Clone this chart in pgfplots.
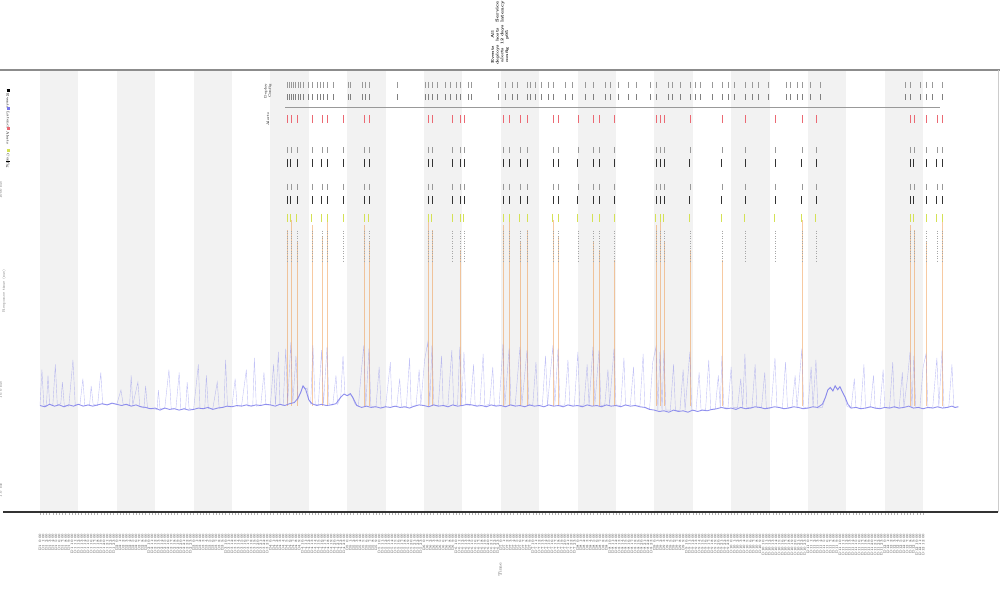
\documentclass[border=0pt]{standalone}
\usepackage{pgfplots}
\usepackage{pgfplotstable}
\pgfplotsset{compat=1.18}

\definecolor{lineblue}{RGB}{120,120,235}
\definecolor{spikeorange}{RGB}{240,150,70}
\definecolor{evyellow}{RGB}{212,225,85}
\definecolor{evred}{RGB}{235,105,115}
\definecolor{band}{RGB}{242,242,242}
\newcommand{\tinyfont}{\fontsize{1.8}{2.2}\selectfont}

% event rows: a,b,c,d = marker rows, e = yellow row, r = red row, g = grey dotted row
\pgfplotstableread{
h a b c d e r g
77.2 2512 1862 1072 794 525 5128 272
78.4 2512 1862 1072 794 525 5128 272
80.3 2512 1862 1072 794 525 5128 272
85.0 2512 1862 1072 794 525 5128 272
88.1 2512 1862 1072 794 525 5128 272
89.7 2512 1862 1072 794 525 5128 272
94.7 2512 1862 1072 794 525 5128 272
101.3 2512 1862 1072 794 525 5128 272
102.8 2512 1862 1072 794 525 5128 272
121.3 2512 1862 1072 794 525 5128 272
122.5 2512 1862 1072 794 525 5128 272
128.8 2512 1862 1072 794 525 5128 272
131.3 2512 1862 1072 794 525 5128 272
132.5 2512 1862 1072 794 525 5128 272
144.7 2512 1862 1072 794 525 5128 272
146.6 2512 1862 1072 794 525 5128 272
150.0 2512 1862 1072 794 525 5128 272
152.2 2512 1862 1072 794 525 5128 272
160.3 2512 1862 1072 794 525 5128 272
161.9 2512 1862 1072 794 525 5128 272
168.1 2512 1862 1072 794 525 5128 272
172.8 2512 1862 1072 794 525 5128 272
174.7 2512 1862 1072 794 525 5128 272
179.4 2512 1862 1072 794 525 5128 272
192.5 2512 1862 1072 794 525 5128 272
193.8 2512 1862 1072 794 525 5128 272
195.0 2512 1862 1072 794 525 5128 272
203.1 2512 1862 1072 794 525 5128 272
213.1 2512 1862 1072 794 525 5128 272
220.3 2512 1862 1072 794 525 5128 272
229.7 2512 1862 1072 794 525 5128 272
238.1 2512 1862 1072 794 525 5128 272
242.5 2512 1862 1072 794 525 5128 272
271.9 2512 1862 1072 794 525 5128 272
273.1 2512 1862 1072 794 525 5128 272
276.9 2512 1862 1072 794 525 5128 272
280.3 2512 1862 1072 794 525 5128 272
281.9 2512 1862 1072 794 525 5128 272
}\events

% top marker rows
\pgfplotstableread{
h t u
77.2 8511 11220
77.8 8511 11220
78.4 8511 11220
79.1 8511 11220
79.7 8511 11220
80.6 8511 11220
81.3 8511 11220
82.2 8511 11220
83.8 8511 11220
85.0 8511 11220
86.6 8511 11220
87.5 8511 11220
88.4 8511 11220
89.7 8511 11220
91.6 8511 11220
96.3 8511 11220
96.9 8511 11220
100.6 8511 11220
101.6 8511 11220
102.8 8511 11220
111.6 8511 11220
120.3 8511 11220
121.3 8511 11220
122.5 8511 11220
124.1 8511 11220
126.6 8511 11220
128.1 8511 11220
130.0 8511 11220
131.3 8511 11220
133.8 8511 11220
134.7 8511 11220
143.1 8511 11220
145.3 8511 11220
147.5 8511 11220
149.1 8511 11220
152.2 8511 11220
153.1 8511 11220
154.7 8511 11220
156.6 8511 11220
158.8 8511 11220
160.3 8511 11220
164.1 8511 11220
166.3 8511 11220
170.3 8511 11220
172.8 8511 11220
176.6 8511 11220
178.1 8511 11220
180.6 8511 11220
183.8 8511 11220
186.3 8511 11220
190.6 8511 11220
192.5 8511 11220
196.3 8511 11220
197.5 8511 11220
200.0 8511 11220
203.1 8511 11220
204.7 8511 11220
206.3 8511 11220
210.0 8511 11220
213.1 8511 11220
215.0 8511 11220
216.9 8511 11220
220.3 8511 11220
222.5 8511 11220
224.4 8511 11220
227.5 8511 11220
233.1 8511 11220
234.4 8511 11220
236.6 8511 11220
238.1 8511 11220
240.6 8511 11220
243.8 8511 11220
270.3 8511 11220
271.9 8511 11220
275.0 8511 11220
276.9 8511 11220
278.8 8511 11220
281.9 8511 11220
}\topmarks

\begin{document}
\begin{tikzpicture}
\begin{axis}[
    scale only axis,
    width=493pt, height=221pt,
    xmin=-8.75, xmax=299.4,
    ymode=log, ymin=0.603, ymax=15849,
    axis line style={draw=none},
    xtick={0,1,...,276},
    xtick pos=lower, tick align=outside,
    xtick style={draw=black!30, line width=0.2pt},
    major tick length=1.5pt,
    xticklabel={\pgfmathtruncatemacro\dd{floor(round(\tick)/24)+1}\pgfmathtruncatemacro\hh{round(\tick)-24*floor(round(\tick)/24)}D\dd\ \hh:00},
    xticklabel style={font=\tinyfont, rotate=90, anchor=east, text=black!75},
    xticklabel shift=6pt,
    ytick={1,10,1000},
    yticklabels={1.0 ms,10.0 ms,1000 ms},
    ytick style={draw=none},
    yticklabel style={font=\tinyfont, rotate=90, anchor=south, text=black!60},
    xlabel={Time},
    every axis x label/.style={at={(rel axis cs:0.495,0)}, anchor=center, yshift=-29pt, rotate=90, font=\fontsize{2.2}{2.6}\selectfont, text=black!70},
    ylabel={Response time (ms)},
    every axis y label/.style={at={(rel axis cs:0,0.5)}, anchor=center, xshift=-4pt, rotate=90, font=\tinyfont, text=black!60},
    unbounded coords=jump,
]

% alternating 12-hour bands
\fill[band] (axis cs:0,0.5) rectangle (axis cs:12,20000);
\fill[band] (axis cs:24,0.5) rectangle (axis cs:36,20000);
\fill[band] (axis cs:48,0.5) rectangle (axis cs:60,20000);
\fill[band] (axis cs:72,0.5) rectangle (axis cs:84,20000);
\fill[band] (axis cs:96,0.5) rectangle (axis cs:108,20000);
\fill[band] (axis cs:120,0.5) rectangle (axis cs:132,20000);
\fill[band] (axis cs:144,0.5) rectangle (axis cs:156,20000);
\fill[band] (axis cs:168,0.5) rectangle (axis cs:180,20000);
\fill[band] (axis cs:192,0.5) rectangle (axis cs:204,20000);
\fill[band] (axis cs:216,0.5) rectangle (axis cs:228,20000);
\fill[band] (axis cs:240,0.5) rectangle (axis cs:252,20000);
\fill[band] (axis cs:264,0.5) rectangle (axis cs:276,20000);

% orange spikes
\addplot[spikeorange, line width=0.3pt, opacity=0.5] coordinates {
(77.2,7)(77.2,400)(77.2,nan) (78.4,7)(78.4,500)(78.4,nan) (80.3,7)(80.3,300)(80.3,nan)
(85.0,7)(85.0,450)(85.0,nan) (88.1,7)(88.1,350)(88.1,nan) (89.7,7)(89.7,500)(89.7,nan)
(101.3,7)(101.3,450)(101.3,nan) (102.8,7)(102.8,300)(102.8,nan)
(121.3,7)(121.3,500)(121.3,nan) (122.5,7)(122.5,400)(122.5,nan) (131.3,7)(131.3,250)(131.3,nan)
(144.7,7)(144.7,450)(144.7,nan) (146.6,7)(146.6,500)(146.6,nan) (150.0,7)(150.0,300)(150.0,nan)
(152.2,7)(152.2,400)(152.2,nan) (160.3,7)(160.3,500)(160.3,nan) (161.9,7)(161.9,350)(161.9,nan)
(172.8,7)(172.8,300)(172.8,nan) (174.7,7)(174.7,250)(174.7,nan) (179.4,7)(179.4,200)(179.4,nan)
(192.5,7)(192.5,450)(192.5,nan) (193.8,7)(193.8,500)(193.8,nan) (195.0,7)(195.0,300)(195.0,nan)
(203.1,7)(203.1,250)(203.1,nan) (213.1,7)(213.1,200)(213.1,nan) (238.1,7)(238.1,500)(238.1,nan)
(271.9,7)(271.9,450)(271.9,nan) (273.1,7)(273.1,400)(273.1,nan) (276.9,7)(276.9,300)(276.9,nan)
(281.9,7)(281.9,500)(281.9,nan)
};

% blue response-time line (raw, with spikes)
\addplot[lineblue, line width=0.2pt, opacity=0.45] coordinates {
(0,7.0)(0.6,16)(1.2,7.1)(2,6.9)(2.5,14)(3,7.2)(4,7.0)(4.8,18)(5.4,7.1)(6.5,7.3)(7,12)(7.6,7.0)
(9,6.9)(10.3,20)(11,7.1)(12.5,7.2)(13.4,13)(14,7.0)(15.5,7.1)(16,11)(16.6,7.2)(18,7.0)(19,15)(19.6,7.2)
(21,7.1)(22.5,7.3)(24,7.2)(25.3,10)(26,7.2)(28,7.0)(28.5,14)(29,7.1)(30.6,12)(31.2,6.9)(32.5,6.6)(33,11)
(33.6,6.6)(35,6.5)(36.6,6.4)(37,10)(37.5,6.5)(39,6.6)(40.3,16)(41,6.5)(42.5,6.6)(43.5,15)(44,6.4)(45.5,6.5)
(46,12)(46.6,6.5)(48,6.4)(49.5,18)(50,6.5)(51.5,6.6)(52,14)(52.6,6.5)(54,6.5)(55.4,12)(56,6.6)(57.5,6.7)
(58,20)(58.6,6.8)(60,6.9)(61,13)(61.6,6.9)(63,7.0)(64.5,16)(65,6.9)(66.5,7.0)(67,21)(67.6,6.9)(69,7.0)
(70,15)(70.6,7.1)(72,7.1)(73,18)(73.6,7.1)(74.5,24)(75,7.2)(76,7.0)(76.8,26)(77.4,7.3)(78.4,30)(79,7.4)
(80,22)(80.6,8)(81.5,9.5)(82.2,11)(82.8,10.2)(83.5,10.5)(84,8)(84.6,7.3)(85.3,28)(86,7.2)(87,7.1)(88,25)
(88.6,7.2)(89.7,27)(90.3,7.3)(91.5,7.1)(92.5,14)(93,7.2)(94,8.5)(94.7,22)(95.3,9)(96.2,8.8)(97,9)(97.6,8.5)
(98.5,7.2)(99.5,6.9)(100.4,15)(101.2,28)(101.8,6.8)(102.8,26)(103.4,6.9)(105,6.8)(106,17)(106.6,6.7)(108,6.8)
(109.5,19)(110,6.8)(111.5,6.9)(112.4,13)(113,6.7)(114.5,6.8)(115.5,21)(116,6.9)(117.5,6.9)(118.5,16)(119,7.0)
(120.2,20)(121.2,30)(121.8,7.0)(122.5,28)(123.1,7.1)(124.5,7.0)(125.5,22)(126,7.0)(127.5,7.1)(128.7,25)
(129.3,7.0)(130.5,7.1)(131.2,27)(131.8,7.0)(132.5,24)(133.1,7.1)(134.5,7.0)(135.5,18)(136,7.0)(137.5,7.1)
(138.5,23)(139,7.0)(140.5,7.2)(141.5,17)(142,7.0)(143.5,7.1)(144.7,29)(145.3,7.0)(146.6,26)(147.2,7.1)
(148.5,7.0)(150,27)(150.6,7.1)(152.2,25)(152.8,7.0)(154,7.1)(155,19)(155.6,7.0)(157,7.1)(158,22)(158.6,7.0)
(160.3,28)(160.9,7.1)(161.9,26)(162.5,7.0)(164,7.1)(165,20)(165.6,7.0)(167,7.1)(168.1,24)(168.7,7.0)
(170,7.1)(171,18)(171.6,7.0)(172.8,27)(173.4,7.1)(174.7,25)(175.3,7.0)(176.5,7.1)(177.5,16)(178,7.0)
(179.4,26)(180,7.1)(181.5,7.0)(182.5,21)(183,7.0)(184.5,7.1)(185.5,17)(186,7.0)(187.5,7.0)(188.5,23)
(189,6.8)(190.5,6.4)(191.5,19)(192.5,27)(193.1,6.3)(193.75,24)(194.4,6.2)(195,25)(195.6,6.3)(197,6.3)
(198,18)(198.6,6.2)(200,6.3)(201,16)(201.6,6.3)(203.1,24)(203.7,6.3)(205,6.2)(206,15)(206.6,6.3)(208,6.3)
(209,20)(209.6,6.4)(211,6.4)(212,14)(212.6,6.6)(213.1,22)(213.7,6.7)(215,6.6)(216,17)(216.6,6.7)(218,6.7)
(219,13)(219.6,6.6)(220.3,23)(220.9,6.7)(222.5,6.6)(223.5,18)(224,6.7)(225.5,6.7)(226.5,15)(227,6.6)
(228.5,6.7)(229.7,21)(230.3,6.7)(232,6.6)(233,19)(233.6,6.7)(235,6.7)(236,14)(236.6,6.6)(238.1,26)
(238.7,6.7)(240,6.6)(241,17)(241.6,6.7)(242.5,20)(243.1,6.6)(244.5,6.7)(245.5,8.5)(246.2,10)(247,10.5)
(247.8,9.8)(248.5,11)(249.3,10)(250,10.8)(250.8,9.5)(251.6,8.5)(252.2,6.9)(253.5,6.6)(254.5,13)(255,6.7)
(256.5,6.5)(257.5,18)(258,6.6)(259.5,6.7)(260.5,14)(261,6.6)(262.5,6.6)(263.5,16)(264,6.7)(265.5,6.6)
(266.5,19)(267,6.7)(268.5,6.6)(269.5,15)(270,6.7)(271.2,14)(271.9,24)(272.5,6.6)(273.1,22)(273.7,6.7)
(275,6.7)(276,17)(276.9,23)(277.5,6.6)(279,6.7)(280.3,21)(280.9,6.7)(281.9,25)(282.5,6.6)(284,6.7)
(285,18)(285.6,6.7)(287,6.8)
};

% blue baseline (typical level)
\addplot[lineblue, line width=0.45pt, opacity=0.8] coordinates {
(0,7.0)(1.5,6.8)(3,7.2)(4.5,6.9)(6,7.1)(7.5,6.8)(9,7.1)(10.5,6.9)(12,7.2)(13.5,6.9)(15,7.1)(16.5,6.9)
(18,7.1)(19.5,7.3)(21,7.1)(22.5,7.4)(24,7.2)(25.5,7.0)(27,7.2)(28.5,6.9)(30,7.1)(31.5,6.8)(33,6.7)
(34.5,6.5)(36,6.6)(37.5,6.3)(39,6.6)(40.5,6.4)(42,6.5)(43.5,6.3)(45,6.5)(46.5,6.3)(48,6.4)(49.5,6.6)
(51,6.5)(52.5,6.7)(54,6.4)(55.5,6.6)(57,6.7)(58.5,6.9)(60,6.8)(61.5,7.0)(63,6.9)(64.5,7.1)(66,6.9)
(67.5,7.1)(69,7.0)(70.5,7.2)(72,7.1)(73.5,6.9)(75,7.2)(76.5,7.0)(78,7.3)(79.5,7.5)(80.5,8.2)(81.5,9.5)
(82.2,11)(83,10.2)(84,8)(85,7.3)(86.5,7.0)(88,7.2)(89.5,7.0)(91,7.1)(92.5,7.3)(94,8.5)(95,9.1)(96,8.8)
(97,9.2)(97.8,8.4)(99,7.0)(100.5,6.7)(102,6.9)(103.5,6.7)(105,6.8)(106.5,6.6)(108,6.8)(109.5,6.7)
(111,6.9)(112.5,6.7)(114,6.8)(115.5,6.6)(117,6.9)(118.5,7.1)(120,7.0)(121.5,6.8)(123,7.1)(124.5,6.9)
(126,7.0)(127.5,6.8)(129,7.1)(130.5,6.9)(132,7.0)(133.5,7.2)(135,7.1)(136.5,6.9)(138,7.0)(139.5,6.8)
(141,7.1)(142.5,6.9)(144,7.0)(145.5,6.8)(147,7.1)(148.5,6.9)(150,7.0)(151.5,6.8)(153,7.1)(154.5,6.9)
(156,7.0)(157.5,6.8)(159,7.1)(160.5,6.9)(162,7.0)(163.5,6.8)(165,7.1)(166.5,6.9)(168,7.0)(169.5,6.8)
(171,7.1)(172.5,6.9)(174,7.0)(175.5,6.8)(177,7.1)(178.5,6.9)(180,7.0)(181.5,6.8)(183,7.1)(184.5,6.9)
(186,7.0)(187.5,6.8)(189,6.7)(190.5,6.4)(192,6.3)(193.5,6.1)(195,6.2)(196.5,6.0)(198,6.3)(199.5,6.1)
(201,6.2)(202.5,6.0)(204,6.3)(205.5,6.1)(207,6.3)(208.5,6.2)(210,6.4)(211.5,6.5)(213,6.7)(214.5,6.5)
(216,6.6)(217.5,6.4)(219,6.7)(220.5,6.5)(222,6.6)(223.5,6.8)(225,6.7)(226.5,6.5)(228,6.6)(229.5,6.8)
(231,6.7)(232.5,6.5)(234,6.6)(235.5,6.8)(237,6.7)(238.5,6.5)(240,6.6)(241.5,6.8)(243,6.7)(244.5,7.2)
(245.5,8.5)(246.2,10)(247,10.6)(247.8,9.8)(248.5,11)(249.3,10.1)(250,10.8)(250.8,9.5)(251.6,8.5)
(252.5,7.2)(253.5,6.6)(255,6.7)(256.5,6.5)(258,6.6)(259.5,6.8)(261,6.6)(262.5,6.5)(264,6.7)(265.5,6.6)
(267,6.8)(268.5,6.6)(270,6.7)(271.5,6.9)(273,6.6)(274.5,6.7)(276,6.5)(277.5,6.7)(279,6.6)(280.5,6.8)
(282,6.6)(283.5,6.7)(285,6.9)(286,6.7)(287,6.8)
};

% event marker rows
\addplot[only marks, mark=|, mark size=8pt, black!35, mark options={line width=0.25pt, densely dotted}] table[x=h, y=g] {\events};
\addplot[only marks, mark=|, mark size=2pt, evyellow, mark options={line width=0.5pt}] table[x=h, y=e] {\events};
\addplot[only marks, mark=|, mark size=2pt, black!80, mark options={line width=0.4pt}] table[x=h, y=d] {\events};
\addplot[only marks, mark=|, mark size=1.5pt, black!40, mark options={line width=0.3pt}] table[x=h, y=c] {\events};
\addplot[only marks, mark=|, mark size=2pt, black!80, mark options={line width=0.4pt}] table[x=h, y=b] {\events};
\addplot[only marks, mark=|, mark size=1.5pt, black!40, mark options={line width=0.3pt}] table[x=h, y=a] {\events};
\addplot[only marks, mark=|, mark size=2pt, evred, mark options={line width=0.3pt}] table[x=h, y=r] {\events};

% top rows and separator
\addplot[black!40, line width=0.4pt] coordinates {(76.6,6761) (281.25,6761)};
\addplot[only marks, mark=|, mark size=1.5pt, black!50, mark options={line width=0.25pt}] table[x=h, y=t] {\topmarks};
\addplot[only marks, mark=|, mark size=1.5pt, black!40, mark options={line width=0.25pt}] table[x=h, y=u] {\topmarks};

\node[rotate=90, font=\tinyfont, align=center] at (axis cs:71.2,9800) {Deploy\\Config};
\node[rotate=90, font=\tinyfont] at (axis cs:71.2,5128) {Alerts};
\end{axis}

% frame lines
\draw[black!45, line width=1pt] ([xshift=-6pt]current axis.north west) -- ([xshift=1pt]current axis.north east);
\draw[black!80, line width=0.6pt] ([xshift=-4.5pt]current axis.south west) -- (current axis.south east);
\draw[black!20, line width=0.3pt] (current axis.south east) -- (current axis.north east);

% title
\node[rotate=90, font=\fontsize{2.2}{2.6}\selectfont\bfseries, align=center] at ([shift={(-2.5pt,29pt)}]current axis.north) {Service\\latency};
\node[rotate=90, font=\fontsize{2}{2.4}\selectfont\bfseries, align=center] at ([shift={(-2.5pt,17.5pt)}]current axis.north) {All\\hosts\\12 days\\p95};
\node[rotate=90, font=\fontsize{2}{2.4}\selectfont\bfseries, align=center] at ([shift={(-2.5pt,7.5pt)}]current axis.north) {Events\\deploys\\alerts\\config};

% legend
\node[rotate=-90, font=\tinyfont, anchor=west] at ([shift={(-2pt,-6pt)}]current axis.north west) {\textcolor{black}{\rule{1.5pt}{1.5pt}} Events};
\node[rotate=-90, font=\tinyfont, anchor=west] at ([shift={(-2pt,-15pt)}]current axis.north west) {\textcolor{lineblue}{\rule{1.5pt}{1.5pt}} Latency};
\node[rotate=-90, font=\tinyfont, anchor=west] at ([shift={(-2pt,-25pt)}]current axis.north west) {\textcolor{evred}{\rule{1.5pt}{1.5pt}} Alerts};
\node[rotate=-90, font=\tinyfont, anchor=west] at ([shift={(-2pt,-36pt)}]current axis.north west) {\textcolor{evyellow}{\rule{1.5pt}{1.5pt}} Config};
\draw[black, line width=0.5pt] ([shift={(-3pt,-46pt)}]current axis.north west) -- ([shift={(-1pt,-46pt)}]current axis.north west);

\pgfresetboundingbox
\path ([shift={(-6pt,-44pt)}]current axis.south west) rectangle ([shift={(1pt,35pt)}]current axis.north east);
\end{tikzpicture}
\end{document}
